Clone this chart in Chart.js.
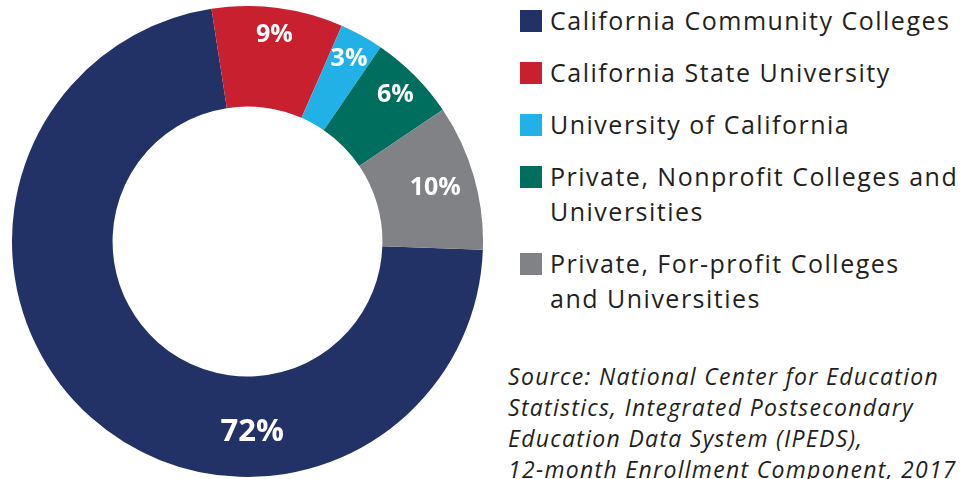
<!DOCTYPE html>
<html>
<head>
<meta charset="utf-8">
<script src="https://cdn.jsdelivr.net/npm/chart.js@4"></script>
<style>
  html, body { margin: 0; padding: 0; background: #fff; }
  body { width: 972px; height: 479px; position: relative; overflow: hidden; font-family: "Open Sans", sans-serif; color: #231f20; }
  #donut { position: absolute; left: 12px; top: 6px; }
  #legend { position: absolute; left: 520px; top: 3px; margin: 0; padding: 0; list-style: none; }
  #legend li { display: flex; align-items: flex-start; margin-bottom: 17px; }
  #legend .box { width: 22px; height: 22px; margin-top: 7px; margin-right: 8px; flex: none; }
  #legend .txt { font-size: 25px; line-height: 35px; letter-spacing: 1.5px; white-space: nowrap; }
  #source { position: absolute; left: 508px; top: 361px; font-style: italic; font-size: 23px; line-height: 31px; letter-spacing: 1.3px; white-space: nowrap; }
</style>
</head>
<body>
<canvas id="donut" width="471" height="471"></canvas>
<ul id="legend"></ul>
<div id="source"></div>
<script>
const categories = [
  ["California Community Colleges"],
  ["California State University"],
  ["University of California"],
  ["Private, Nonprofit Colleges and", "Universities"],
  ["Private, For-profit Colleges", "and Universities"]
];
const shares = [72, 9, 3, 6, 10];
const colors = ["#233266", "#c8202f", "#22b1e6", "#006e5f", "#808285"];
const sourceLines = [
  "Source: National Center for Education",
  "Statistics, Integrated Postsecondary",
  "Education Data System (IPEDS),",
  "12-month Enrollment Component, 2017"
];

// where each percentage sits across the ring (0 = inner edge, 1 = outer edge)
const labelDepth = [0.55, 0.73, 0.74, 0.73, 0.6];

const sliceLabels = {
  id: "sliceLabels",
  afterDatasetsDraw(chart) {
    const ctx = chart.ctx;
    const arcs = chart.getDatasetMeta(0).data;
    ctx.save();
    ctx.fillStyle = "#fff";
    ctx.textAlign = "center";
    ctx.textBaseline = "middle";
    arcs.forEach((arc, i) => {
      const p = arc.getProps(["x", "y", "startAngle", "endAngle", "innerRadius", "outerRadius"], true);
      // the big slice carries its label at the bottom of the ring
      const angle = i === 0 ? Math.PI / 2 - 0.025 : (p.startAngle + p.endAngle) / 2;
      const r = p.innerRadius + labelDepth[i] * (p.outerRadius - p.innerRadius);
      ctx.font = `bold ${i === 0 ? 31 : 25}px "Open Sans", sans-serif`;
      ctx.fillText(shares[i] + "%", p.x + Math.cos(angle) * r, p.y + Math.sin(angle) * r);
    });
    ctx.restore();
  }
};

new Chart(document.querySelector("#donut"), {
  type: "doughnut",
  data: {
    labels: categories,
    datasets: [{ data: shares, backgroundColor: colors, borderWidth: 0 }]
  },
  options: {
    responsive: false,
    animation: false,
    rotation: 92,
    cutout: "57.3%",
    layout: { padding: 0 },
    plugins: { legend: { display: false }, tooltip: { enabled: false } }
  },
  plugins: [sliceLabels]
});

document.querySelector("#legend").innerHTML = categories.map((lines, i) => `
  <li><span class="box" style="background:${colors[i]}"></span><span class="txt">${lines.join("<br>")}</span></li>
`).join("");
document.querySelector("#source").innerHTML = sourceLines.join("<br>");
</script>
</body>
</html>
